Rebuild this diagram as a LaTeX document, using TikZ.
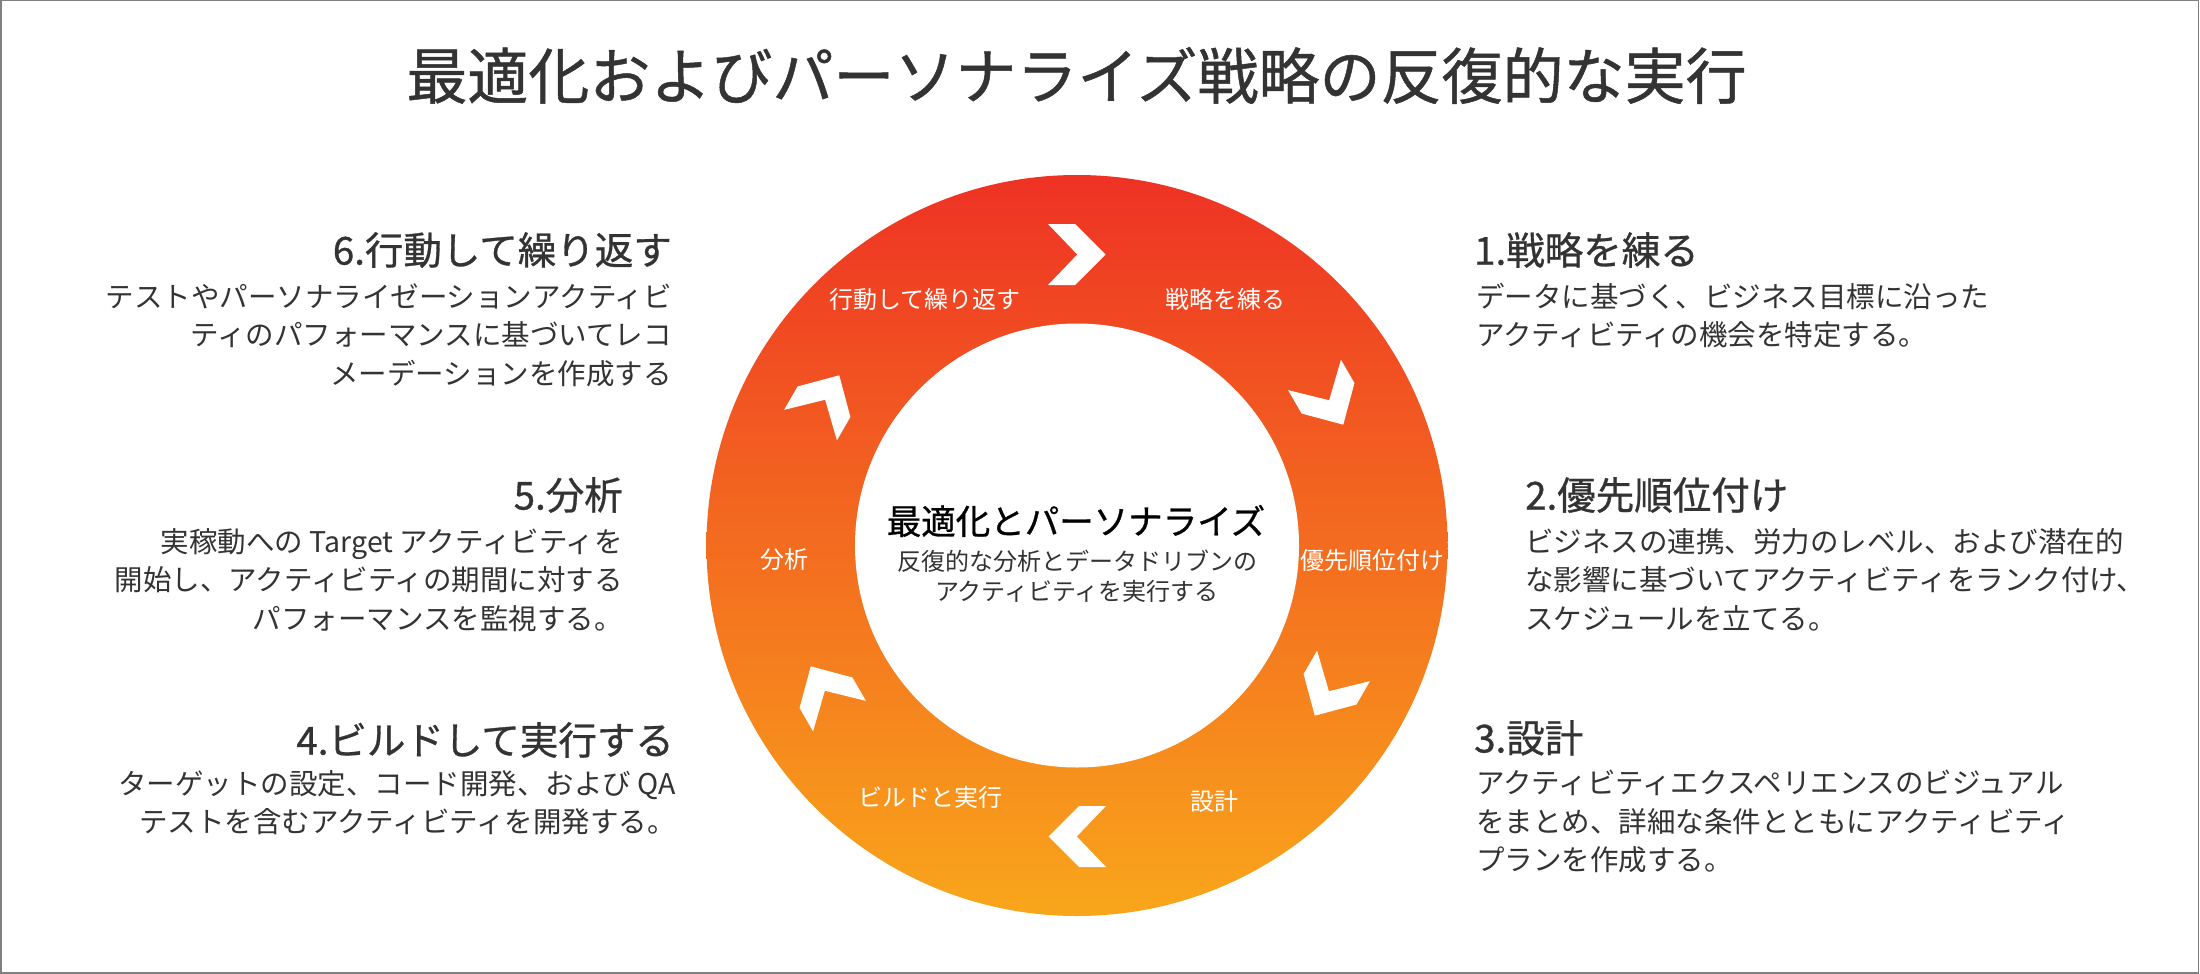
\documentclass[tikz,border=0pt]{standalone}
\usepackage{fontspec}
\setmainfont{Noto Sans CJK JP}
\newfontfamily\jpmed{Noto Sans CJK JP}[FakeBold=0.8]
\definecolor{ringtop}{RGB}{238,50,36}
\definecolor{ringmid}{RGB}{243,108,34}
\definecolor{ringbot}{RGB}{249,166,27}
\definecolor{txt}{RGB}{51,51,51}
\definecolor{frame}{RGB}{128,128,128}
\tikzset{
  heading/.style={font=\jpmed\fontsize{38.5}{46}\selectfont, text=txt, inner sep=0pt},
  body/.style={font=\fontsize{28.5}{38.5}\selectfont, text=txt, inner sep=0pt},
  ringlabel/.style={font=\fontsize{24}{28}\selectfont, text=white, inner sep=0pt},
  chevron/.style={fill=white, draw=none}
}
\begin{document}
\begin{tikzpicture}[x=1pt,y=-1pt]
\useasboundingbox (0,0) rectangle (2200,974);
\fill[white] (0,0) rectangle (2200,974);
\draw[frame, line width=1.5pt] (0.75,0.75) rectangle (2198.5,973);

% title
\node[font=\jpmed\fontsize{61}{70}\selectfont, text=txt, inner sep=0pt] (title) at (1076.5,75.5) {最適化およびパーソナライズ戦略の反復的な実行};

% ring
\coordinate (c) at (1077,545.5);
\shade[top color=ringtop, middle color=ringmid, bottom color=ringbot] (c) circle[radius=370.5];
\fill[white] (c) circle[radius=222];

% chevrons
\foreach \a in {0,-60,-120,-180,-240,-300}{
  \fill[chevron, shift={(c)}, rotate=\a] (-29,-321.5) -- (-2,-321.5) -- (28.5,-291) -- (-2,-260.5) -- (-29,-260.5) -- (0.3,-291) -- cycle;
}

% ring labels
\node[ringlabel] (r6) at (925,299) {行動して繰り返す};
\node[ringlabel] (r1) at (1225.5,299) {戦略を練る};
\node[ringlabel] (r2) at (1372,560) {優先順位付け};
\node[ringlabel] (r5) at (784,559) {分析};
\node[ringlabel] (r4) at (930,797) {ビルドと実行};
\node[ringlabel] (r3) at (1214,801) {設計};

% centre
\node[font=\jpmed\fontsize{34.5}{40}\selectfont, text=black, inner sep=0pt] (ctitle) at (1076,521) {最適化とパーソナライズ};
\node[font=\fontsize{24}{30.5}\selectfont, text=txt, inner sep=0pt, align=center] (csub) at (1077,576) {反復的な分析とデータドリブンの\\アクティビティを実行する};

% left side
\node[heading, anchor=north east] (h6) at (672,232) {6.行動して繰り返す};
\node[body, anchor=north east, align=right] (b6) at (672,283) {テストやパーソナライゼーションアクティビ\\ティのパフォーマンスに基づいてレコ\\メーデーションを作成する};

\node[heading, anchor=north east] (h5) at (623,477) {5.分析};
\node[body, anchor=north east, align=right] (b5) at (623,528) {実稼動への Target アクティビティを\\開始し、アクティビティの期間に対する\\パフォーマンスを監視する。};

\node[heading, anchor=north east] (h4) at (674,722) {4.ビルドして実行する};
\node[body, anchor=north east, align=right] (b4) at (676,770) {ターゲットの設定、コード開発、および QA\\テストを含むアクティビティを開発する。};

% right side
\node[heading, anchor=north west] (h1) at (1474,232) {1.戦略を練る};
\node[body, anchor=north west, align=left] (b1) at (1476,283) {データに基づく、ビジネス目標に沿った\\アクティビティの機会を特定する。};

\node[heading, anchor=north west] (h2) at (1525,477) {2.優先順位付け};
\node[body, anchor=north west, align=left] (b2) at (1525,528) {ビジネスの連携、労力のレベル、および潜在的\\な影響に基づいてアクティビティをランク付け、\\スケジュールを立てる。};

\node[heading, anchor=north west] (h3) at (1474,720) {3.設計};
\node[body, anchor=north west, align=left] (b3) at (1476,770) {アクティビティエクスペリエンスのビジュアル\\をまとめ、詳細な条件とともにアクティビティ\\プランを作成する。};
\end{tikzpicture}
\end{document}
